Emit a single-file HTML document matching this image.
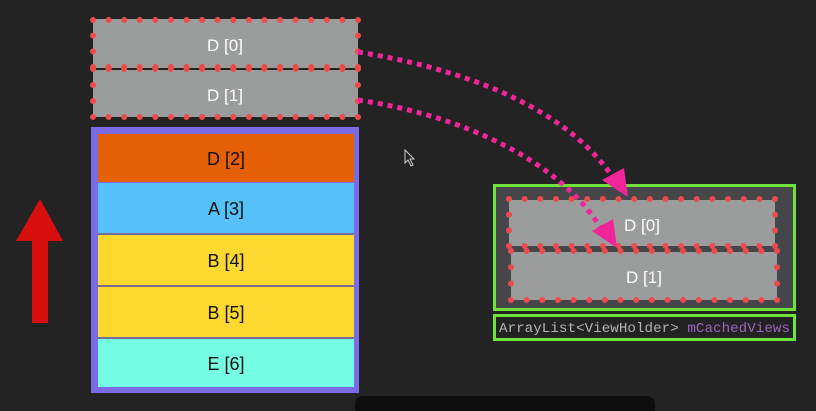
<!DOCTYPE html>
<html><head><meta charset="utf-8"><style>
html,body{margin:0;padding:0;background:#232323;}
svg{display:block;font-family:"Liberation Sans",Arial,sans-serif;}
</style></head><body>
<svg id="s" width="816" height="411" viewBox="0 0 816 411" xmlns="http://www.w3.org/2000/svg">
<rect x="0" y="0" width="816" height="411" fill="#232323"/>
<rect x="355" y="396" width="300" height="20" rx="8" fill="#0e0e0e"/>

<g>
<rect x="93" y="19" width="265" height="49" fill="#9b9d9c"/>
<text x="225" y="51" font-size="17" fill="#fff" text-anchor="middle">D [0]</text>
<rect x="93" y="70" width="265" height="47" fill="#9b9d9c"/>
<text x="225" y="101" font-size="17" fill="#fff" text-anchor="middle">D [1]</text>
</g>

<g>
<rect x="91" y="127" width="268" height="266" fill="#7b6be3"/>
<rect x="98" y="134" width="256" height="48" fill="#e45f06"/>
<rect x="98" y="183" width="256" height="50" fill="#56c0f9"/>
<rect x="98" y="235" width="256" height="50" fill="#fdd82e"/>
<rect x="98" y="287" width="256" height="50" fill="#fdd82e"/>
<rect x="98" y="339" width="256" height="48" fill="#74fde2"/>
<line x1="98" y1="234" x2="354" y2="234" stroke="#6b6b5a" stroke-width="1"/>
<line x1="98" y1="286" x2="354" y2="286" stroke="#7a6a40" stroke-width="1"/>
<line x1="98" y1="338" x2="354" y2="338" stroke="#7a7050" stroke-width="1"/>
<g font-size="18" fill="#111" text-anchor="middle">
<text x="226" y="165">D [2]</text>
<text x="226" y="215">A [3]</text>
<text x="226" y="267">B [4]</text>
<text x="226" y="319">B [5]</text>
<text x="226" y="370">E [6]</text>
</g>
</g>

<polygon points="40,199 63,241 48,241 48,323 32,323 32,241 16,241" fill="#d70f0f"/>

<g>
<rect x="494.5" y="185.5" width="300" height="124" fill="#45464a" stroke="#6fe23a" stroke-width="3"/>
<rect x="509" y="200" width="266" height="46" fill="#9b9d9c"/>
<text x="642" y="231" font-size="17" fill="#fff" text-anchor="middle">D [0]</text>
<rect x="511" y="252" width="266" height="48" fill="#9b9d9c"/>
<text x="644" y="283" font-size="17" fill="#fff" text-anchor="middle">D [1]</text>
<rect x="494.5" y="315.5" width="300" height="24" fill="#222" stroke="#6fe23a" stroke-width="3"/>
<text x="499" y="332" font-family="Liberation Mono,monospace" font-size="14.2" fill="#b4b4b4" textLength="291">ArrayList&lt;ViewHolder&gt; <tspan fill="#9a66c2">mCachedViews</tspan></text>
</g>

<g id="dots" fill="#ec4b4b"></g>

<g fill="none" stroke="#f0259a" stroke-width="5" stroke-dasharray="5,5">
<path d="M358,52 C470,70 570,110 616,182"/>
<path d="M358,100 C460,115 560,160 602,230"/>
</g>
<polygon points="628,197 602,180 624,168" fill="#f0259a"/>
<polygon points="617,248 592,231 613,219" fill="#f0259a"/>

<polygon points="405,150 405,163 408,160 411,166 413,165 410,159 414,159" fill="#222" stroke="#ccc" stroke-width="1"/>
</svg>
<script>
const g=document.getElementById('dots');
function dots(x,y,w,h){
  const nx=Math.round(w/15.6), ny=Math.max(1,Math.round(h/15.6));
  const pts=[];
  for(let i=0;i<=nx;i++){pts.push([x+w*i/nx,y]);pts.push([x+w*i/nx,y+h]);}
  for(let j=1;j<ny;j++){pts.push([x,y+h*j/ny]);pts.push([x+w,y+h*j/ny]);}
  pts.forEach(p=>{
    const c=document.createElementNS('http://www.w3.org/2000/svg','circle');
    c.setAttribute('cx',p[0]);c.setAttribute('cy',p[1]);c.setAttribute('r',3);
    
    
    g.appendChild(c);
  });
}
dots(93,20,265,47);dots(93,69,265,48);dots(509,199,266,47);dots(511,251,266,49);
</script>
</body></html>
